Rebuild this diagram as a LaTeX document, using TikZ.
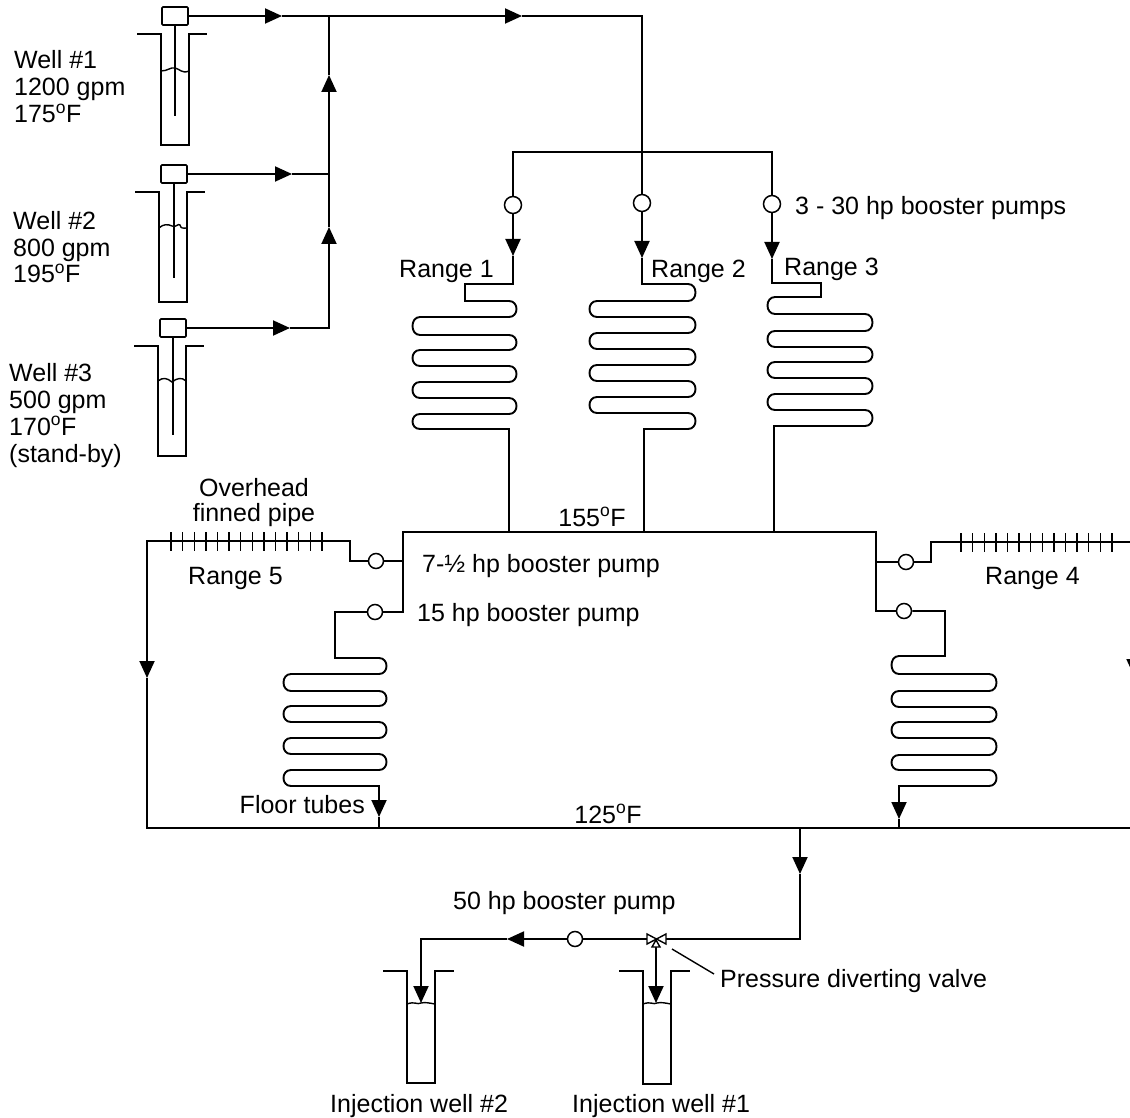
\documentclass[tikz,border=0pt]{standalone}
\usepackage{fontspec}
\setmainfont{Liberation Sans}
\usetikzlibrary{arrows.meta}

% serpentine rows: xa, xb, bulge, then ya/yb/yc triples
\newcommand{\coilrows}[4]{\foreach \ya/\yb/\yc in {#4} {
    -- (#1,\ya) .. controls +(#3,0) and +(#3,0) .. (#1,\yb)
    -- (#2,\yb) .. controls +(-#3,0) and +(-#3,0) .. (#2,\yc)
    -- (#1,\yc)}}
\newcommand{\degF}{\textsuperscript{o}F}

\begin{document}
\begin{tikzpicture}[
    x=1pt, y=-1pt,
    pipe/.style={draw=black, line width=1.9pt, line join=miter},
    flow/.style={pipe, -{Triangle[length=17pt,width=15pt]}},
    thinline/.style={draw=black, line width=1.4pt},
    pump/.style={circle, draw=black, line width=1.5pt, fill=white, inner sep=0pt, minimum size=15pt},
    bigpump/.style={pump, minimum size=17pt},
    wellhead/.style={rectangle, draw=black, line width=1.7pt, rounded corners=1pt, fill=white, minimum width=26pt, minimum height=18pt, inner sep=0pt},
    txt/.style={anchor=base west, inner sep=0pt, align=left, font=\fontsize{25}{27}\selectfont},
    ctxt/.style={txt, anchor=base, align=center}]

    \useasboundingbox (0,0) rectangle (1130,1118);

    % Supply wells
    \foreach \n/\xc/\xb/\yh/\yend/\ybot in {1/175/175/16/116/145, 2/174/173/174/278/302, 3/173/172/328/435/456} {
        \node[wellhead] (head\n) at (\xc,\yh) {};
        \draw[pipe] (\xb-38,\yh+18) -- (\xb-14,\yh+18) -- (\xb-14,\ybot) -- (\xb+14,\ybot) -- (\xb+14,\yh+18) -- (\xb+32,\yh+18);
        \draw[pipe] (head\n) -- (\xc,\yend);
    }
    \draw[thinline] (161,71) .. controls (168,71) and (170,67) .. (175,68) .. controls (180,69) and (182,74) .. (189,71);
    \draw[thinline] (159,228) .. controls (163,224) and (168,224) .. (172,226) .. controls (176,228) and (178,223) .. (180,225) .. controls (181,229) and (183,228) .. (187,228);
    \draw[thinline] (158,381) .. controls (163,377) and (167,378) .. (172,382) .. controls (177,378) and (182,377) .. (186,381);
    \node[txt] (well1txt) at (14,123) {Well \#1\\1200 gpm\\175\degF};
    \node[txt] (well2txt) at (13,283) {Well \#2\\800 gpm\\195\degF};
    \node[txt] (well3txt) at (9,462) {Well \#3\\500 gpm\\170\degF\\(stand-by)};

    % Collecting header
    \coordinate (tip1) at (282,16);
    \coordinate (tip2) at (522,16);
    \coordinate (tip3) at (292,174);
    \coordinate (tip4) at (290,328);
    \coordinate (join1) at (329,16);
    \coordinate (join2) at (329,174);
    \coordinate (join3) at (329,328);
    \coordinate (up1) at (329,75);
    \coordinate (up2) at (329,227);
    \coordinate (feed) at (642,16);
    \draw[flow] (head1) -- (tip1);
    \draw[flow] (tip1) -- (tip2);
    \draw[pipe] (tip2) -- (feed) -- (642,152);
    \draw[flow] (head2) -- (tip3);
    \draw[pipe] (tip3) -- (join2);
    \draw[flow] (head3) -- (tip4);
    \draw[pipe] (tip4) -- (join3) -- (329,300);
    \draw[flow] (329,300) -- (up2);
    \draw[pipe] (up2) -- (join2);
    \draw[flow] (join2) -- (up1);
    \draw[pipe] (up1) -- (join1);

    % Range 1 to 3 booster pumps
    \node[bigpump] (pump1) at (513,205) {};
    \node[bigpump] (pump2) at (642,203) {};
    \node[bigpump] (pump3) at (772,204) {};
    \coordinate (tipa) at (513,256);
    \coordinate (tipb) at (642,258);
    \coordinate (tipc) at (772,259);
    \draw[pipe] (pump1) -- (513,152) -- (772,152) -- (pump3);
    \draw[pipe] (642,152) -- (pump2);
    \draw[flow] (pump1) -- (tipa);
    \draw[flow] (pump2) -- (tipb);
    \draw[flow] (pump3) -- (tipc);
    \node[txt] (pumpstxt) at (795,215) {3 - 30 hp booster pumps};

    % Range coils
    \draw[pipe] (tipa) -- (513,284) -- (465,284) -- (465,301)
        \coilrows{509}{420}{10}{301/317/335, 335/350/366, 366/382/398, 398/414/429}
        -- (509,532);
    \draw[pipe] (tipb) -- (642,284)
        \coilrows{688}{597}{10}{284/301/317, 317/333/349, 349/365/381, 381/397/413}
        .. controls +(10,0) and +(10,0) .. (688,429) -- (644,429) -- (644,532);
    \draw[pipe] (tipc) -- (772,283) -- (821,283) -- (821,297)
        \coilrows{775}{865}{-10}{297/314/331, 331/347/362, 362/378/394, 394/410/426}
        -- (774,426) -- (774,532);
    \node[txt] (range1txt) at (399,277) {Range 1};
    \node[txt] (range2txt) at (651,277) {Range 2};
    \node[txt] (range3txt) at (784,276) {Range 3};

    % Hot main and its pumps
    \node[pump] (pump5) at (376,561) {};
    \node[pump] (pump6) at (375,612) {};
    \node[pump] (pump4) at (906,562) {};
    \node[pump] (pump7) at (904,611) {};
    \draw[pipe] (pump6) -- (403,612) -- (403,532) -- (876,532) -- (876,611) -- (pump7);
    \draw[pipe] (403,561) -- (pump5);
    \draw[pipe] (876,562) -- (pump4);
    \node[ctxt] (hottxt) at (592,526) {155\degF};
    \node[txt] (pump5txt) at (422,572) {7-½ hp booster pump};
    \node[txt] (pump6txt) at (417,621) {15 hp booster pump};

    % Overhead finned pipes
    \coordinate (tipl) at (147,678);
    \coordinate (tipr) at (1134,676);
    \draw[pipe] (pump5) -- (350,561) -- (350,541) -- (147,541) -- (147,600);
    \draw[pipe] (pump4) -- (931,562) -- (931,542) -- (1134,542) -- (1134,600);
    \draw[flow] (147,600) -- (tipl);
    \draw[flow] (1134,600) -- (tipr);
    \foreach \i in {0,...,13} {
        \draw[thinline] (171+11.6*\i,532) -- (171+11.6*\i,551);
        \draw[thinline] (961+11.6*\i,533) -- (961+11.6*\i,552);
    }
    \node[ctxt] (overtxt) at (254,521) {Overhead\\[-2pt]finned pipe};
    \node[txt] (range5txt) at (188,584) {Range 5};
    \node[txt] (range4txt) at (985,584) {Range 4};

    % Floor tubes
    \coordinate (tipd) at (379,817);
    \coordinate (tipe) at (899,819);
    \draw[pipe] (pump6) -- (335,612) -- (335,658)
        \coilrows{379}{291}{10}{658/674/691, 691/706/722, 722/738/754, 754/770/786}
        -- (379,790);
    \draw[pipe] (pump7) -- (945,611) -- (945,656)
        \coilrows{899}{989}{-10}{656/674/691, 691/707/722, 722/738/755, 755/770/786}
        -- (899,790);
    \draw[flow] (379,790) -- (tipd);
    \draw[flow] (899,790) -- (tipe);
    \node[txt, anchor=base east] (floortxt) at (365,813) {Floor tubes};

    % Return main
    \draw[pipe] (tipl) -- (147,828) -- (1134,828) -- (tipr);
    \draw[pipe] (tipd) -- (379,828);
    \draw[pipe] (tipe) -- (899,828);
    \node[ctxt] (coldtxt) at (608,823) {125\degF};

    % Injection line
    \node[pump] (pump8) at (575,939) {};
    \coordinate (valve) at (656,939);
    \coordinate (tipf) at (800,874);
    \coordinate (tipg) at (507,939);
    \coordinate (tiph) at (421,1003);
    \coordinate (tipi) at (656,1003);
    \draw[pipe] (tipf) -- (800,939) -- (valve);
    \draw[flow] (800,828) -- (tipf);
    \draw[pipe] (valve) -- (pump8);
    \draw[flow] (pump8) -- (tipg);
    \draw[pipe] (tipg) -- (421,939) -- (421,960);
    \draw[flow] (421,960) -- (tiph);
    \draw[flow] (valve) -- (tipi);
    \draw[thinline, fill=white] (647,934) -- (666,944) -- (666,934) -- (647,944) -- cycle;
    \draw[thinline, fill=white] (656,940) -- (652,947) -- (660,947) -- cycle;
    \node[txt] (pump8txt) at (453,909) {50 hp booster pump};
    \node[txt] (valvetxt) at (720,987) {Pressure diverting valve};
    \coordinate (leadera) at (672,949);
    \coordinate (leaderb) at (714,974);
    \draw[thinline] (leadera) -- (leaderb);

    % Injection wells
    \foreach \n/\xl/\ybot in {2/407/1083, 1/643/1084} {
        \draw[pipe] (\xl-24,971) -- (\xl,971) -- (\xl,\ybot) -- (\xl+28,\ybot) -- (\xl+28,971) -- (\xl+47,971);
        \draw[thinline] (\xl,1004) .. controls (\xl+8,1001) and (\xl+10,1005) .. (\xl+14,1003) .. controls (\xl+18,1002) and (\xl+22,1003) .. (\xl+28,1004);
    }
    \node[txt] (inj2txt) at (330,1112) {Injection well \#2};
    \node[txt] (inj1txt) at (572,1112) {Injection well \#1};
\end{tikzpicture}
\end{document}
